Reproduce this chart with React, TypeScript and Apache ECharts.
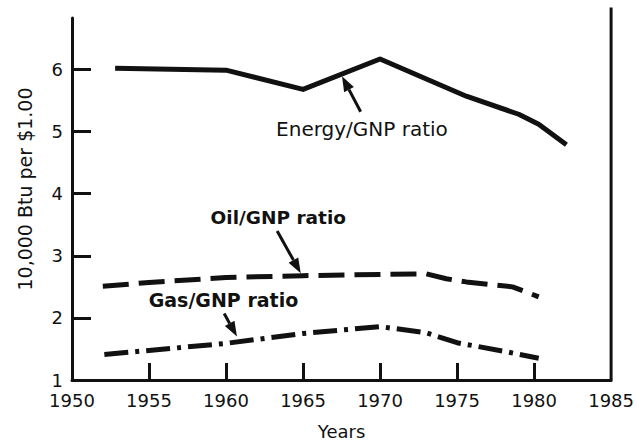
import React, { useEffect, useRef } from "react";
import * as echarts from "echarts";

const energyYears = [1952.8, 1960, 1965, 1970, 1975.6, 1979, 1980.3, 1982.1];
const energyValues = [6.02, 5.99, 5.68, 6.17, 5.57, 5.28, 5.12, 4.79];

const oilYears = [1952, 1955, 1960, 1965, 1970, 1973, 1974.3, 1975.6, 1978.6, 1980.3];
const oilValues = [2.51, 2.57, 2.65, 2.68, 2.7, 2.71, 2.63, 2.58, 2.5, 2.34];

const gasYears = [1952.1, 1960, 1965, 1970, 1973, 1975, 1978.1, 1980.3];
const gasValues = [1.41, 1.59, 1.75, 1.86, 1.76, 1.6, 1.46, 1.35];

const xTickLabels = [1950, 1955, 1960, 1965, 1970, 1975, 1980, 1985];
const xTicks = [1955, 1960, 1965, 1970, 1975, 1980];
const yTickLabels = [1, 2, 3, 4, 5, 6];
const yTicks = [2, 3, 4, 5, 6];

// annotations: label text, label anchor (data coords), arrow tail and tip (data coords)
const annotations = [
  { text: "Energy/GNP ratio", bold: false, size: 20, label: [1963.25, 5.04], tail: [1968.74, 5.32], tip: [1967.53, 5.89] },
  { text: "Oil/GNP ratio", bold: true, size: 18.5, label: [1959.0, 3.61], tail: [1963.32, 3.4], tip: [1964.85, 2.72] },
  { text: "Gas/GNP ratio", bold: true, size: 19, label: [1954.98, 2.29], tail: [1959.88, 2.07], tip: [1960.71, 1.7] },
];

const toPairs = (xs: number[], ys: number[]) => xs.map((x, i) => [x, ys[i]]);

const FONT = "DejaVu Sans";
const INK = "#111";

export default function App() {
  const ref = useRef<HTMLDivElement>(null);
  useEffect(() => {
    const chart = echarts.init(ref.current!, null, { renderer: "svg" });
    const option: any = {
      animation: false,
      backgroundColor: "#fff",
      grid: { left: 72, right: 16, top: 18, bottom: 61 },
      xAxis: {
        type: "value",
        min: 1950,
        max: 1985,
        interval: 5,
        splitLine: { show: false },
        axisLine: { lineStyle: { color: INK, width: 3 } },
        axisTick: { inside: true, length: 17, lineStyle: { color: INK, width: 3 }, customValues: xTicks },
        axisLabel: {
          color: INK,
          fontFamily: FONT,
          fontSize: 18,
          margin: 11,
          customValues: xTickLabels,
          formatter: (v: number) => String(v),
        },
        name: "Years",
        nameLocation: "middle",
        nameGap: 42,
        nameTextStyle: { color: INK, fontFamily: FONT, fontSize: 18 },
      },
      yAxis: {
        type: "value",
        min: 1,
        max: 6.83,
        interval: 1,
        splitLine: { show: false },
        axisLine: { show: true, lineStyle: { color: INK, width: 3 } },
        axisTick: { inside: true, length: 19, lineStyle: { color: INK, width: 3 }, customValues: yTicks },
        axisLabel: {
          color: INK,
          fontFamily: FONT,
          fontSize: 18,
          margin: 9,
          customValues: yTickLabels,
          formatter: (v: number) => String(v),
        },
      },
      series: [
        {
          type: "line",
          name: "Energy/GNP ratio",
          data: toPairs(energyYears, energyValues),
          symbol: "none",
          lineStyle: { color: INK, width: 5, join: "round" },
        },
        {
          type: "line",
          name: "Oil/GNP ratio",
          data: toPairs(oilYears, oilValues),
          symbol: "none",
          lineStyle: { color: INK, width: 5, type: [26, 10] },
        },
        {
          type: "line",
          name: "Gas/GNP ratio",
          data: toPairs(gasYears, gasValues),
          symbol: "none",
          lineStyle: { color: INK, width: 5, type: [24, 7, 4, 7] },
        },
        {
          type: "line",
          name: "frame",
          data: [[1985, 1], [1985, 7.0]],
          symbol: "none",
          clip: false,
          silent: true,
          lineStyle: { color: INK, width: 3 },
        },
      ],
    };
    chart.setOption(option);

    const graphics: any[] = [
      {
        type: "text",
        x: 25,
        y: 189,
        rotation: Math.PI / 2,
        style: {
          text: "10,000 Btu per $1.00",
          fill: INK,
          fontFamily: FONT,
          fontSize: 19,
          align: "center",
          verticalAlign: "middle",
        },
      },
    ];
    annotations.forEach((a) => {
      const lp = chart.convertToPixel({ gridIndex: 0 }, a.label) as number[];
      const tp = chart.convertToPixel({ gridIndex: 0 }, a.tail) as number[];
      const hp = chart.convertToPixel({ gridIndex: 0 }, a.tip) as number[];
      graphics.push({
        type: "text",
        x: lp[0],
        y: lp[1],
        style: {
          text: a.text,
          fill: INK,
          fontFamily: FONT,
          fontSize: a.size,
          fontWeight: a.bold ? "bold" : "normal",
          align: "left",
          verticalAlign: "middle",
        },
      });
      const dx = hp[0] - tp[0];
      const dy = hp[1] - tp[1];
      const len = Math.sqrt(dx * dx + dy * dy);
      const ux = dx / len;
      const uy = dy / len;
      const headLen = 15;
      const headW = 5.5;
      const bx = hp[0] - ux * headLen;
      const by = hp[1] - uy * headLen;
      graphics.push({
        type: "line",
        shape: { x1: tp[0], y1: tp[1], x2: bx, y2: by },
        style: { stroke: INK, lineWidth: 3 },
      });
      graphics.push({
        type: "polygon",
        shape: {
          points: [
            [hp[0], hp[1]],
            [bx - uy * headW, by + ux * headW],
            [bx + uy * headW, by - ux * headW],
          ],
        },
        style: { fill: INK },
      });
    });
    chart.setOption({ graphic: graphics });

    return () => chart.dispose();
  }, []);
  return <div ref={ref} style={{ position: "fixed", left: 0, top: 0, width: 637, height: 445 }} />;
}
